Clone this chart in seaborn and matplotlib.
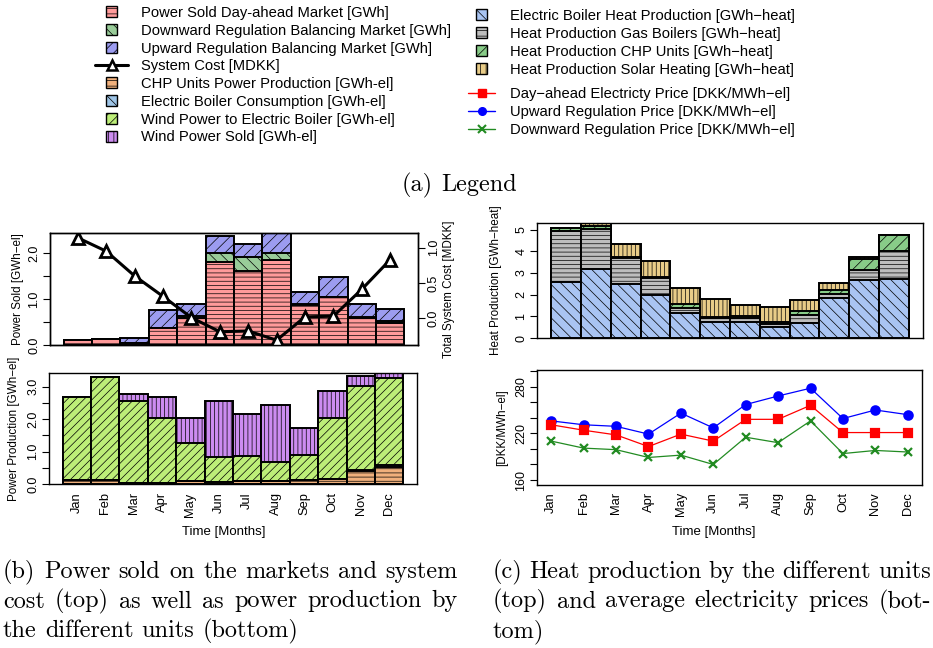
import numpy as np
import seaborn as sns
import matplotlib.pyplot as plt
from matplotlib.patches import Patch, Rectangle
from matplotlib.lines import Line2D
from matplotlib.legend_handler import HandlerPatch

months = ["Jan", "Feb", "Mar", "Apr", "May", "Jun", "Jul", "Aug", "Sep", "Oct", "Nov", "Dec"]

# power sold on the markets [GWh]
sold_dayahead = [0.10, 0.14, 0.04, 0.36, 0.58, 1.80, 1.60, 1.84, 0.87, 1.05, 0.59, 0.48]
sold_down = [0.00, 0.00, 0.00, 0.00, 0.05, 0.20, 0.30, 0.16, 0.02, 0.00, 0.02, 0.03]
sold_up = [0.00, 0.00, 0.12, 0.40, 0.27, 0.37, 0.30, 0.42, 0.25, 0.43, 0.28, 0.27]
system_cost = [1.14, 0.95, 0.60, 0.31, 0.01, -0.19, -0.18, -0.31, 0.02, 0.03, 0.41, 0.83]

# power production [GWh-el]
chp_power = [0.13, 0.13, 0.04, 0.03, 0.08, 0.07, 0.08, 0.08, 0.12, 0.14, 0.41, 0.52]
eb_consumption = [0.00, 0.00, 0.00, 0.00, 0.00, 0.00, 0.00, 0.00, 0.00, 0.00, 0.01, 0.06]
wind_to_eb = [2.56, 3.18, 2.53, 1.99, 1.18, 0.76, 0.78, 0.59, 0.76, 1.88, 2.61, 2.69]
wind_sold = [0.00, 0.00, 0.19, 0.65, 0.76, 1.74, 1.29, 1.76, 0.85, 0.86, 0.29, 0.14]

# heat production [GWh-heat]
heat_eb = [2.56, 3.17, 2.51, 1.96, 1.13, 0.72, 0.72, 0.52, 0.71, 1.85, 2.66, 2.74]
heat_gas = [2.38, 1.85, 1.20, 0.82, 0.27, 0.18, 0.18, 0.11, 0.34, 0.17, 0.48, 1.28]
heat_chp = [0.15, 0.15, 0.02, 0.02, 0.15, 0.08, 0.10, 0.11, 0.18, 0.18, 0.52, 0.72]
heat_solar = [0.00, 0.12, 0.62, 0.76, 0.76, 0.80, 0.52, 0.70, 0.51, 0.34, 0.08, 0.00]

# average prices [DKK/MWh-el]
price_dayahead = [231, 224, 218, 203, 219, 210, 238, 238, 256, 221, 221, 221]
price_up = [236, 231, 229, 219, 246, 227, 257, 268, 278, 239, 250, 244]
price_down = [210, 201, 199, 189, 192, 180, 215, 208, 236, 194, 198, 196]

# colours
c_red, c_down, c_up = "#ff9a9a", "#99cc99", "#9c9cf0"
c_chp, c_ebc, c_wind_eb, c_wind_sold = "#f0b07c", "#9ec4e6", "#bdee78", "#cc8cf0"
c_heat_eb, c_gas, c_heat_chp, c_solar = "#a9c4f2", "#bdbdbd", "#88cc88", "#e8cc88"

sns.set_theme(style="ticks", rc={"axes.edgecolor": "black", "axes.linewidth": 1.0,
                                 "text.color": "black", "xtick.color": "black",
                                 "ytick.color": "black", "axes.labelcolor": "black",
                                 "hatch.linewidth": 0.5})
plt.rcParams["font.family"] = ["Liberation Sans", "DejaVu Sans"]

W, H = 933, 648
fig = plt.figure(figsize=(W / 100, H / 100), dpi=100)


def rect(x0, y0, x1, y1):
    return [x0 / W, 1 - y1 / H, (x1 - x0) / W, (y1 - y0) / H]


def stacked(ax, layers):
    # draw cumulative totals from the top down so each layer covers the next
    tops = np.cumsum([l[0] for l in layers], axis=0)
    for (vals, color, hatch), top in reversed(list(zip(layers, tops))):
        sns.barplot(x=months, y=top, color=color, hatch=hatch, edgecolor="black",
                    linewidth=1.4, width=1, saturation=1, errorbar=None, ax=ax)
    ax.set_xlim(-0.98, 11.98)


def yticks(ax, ticks, labels):
    ax.set_yticks(ticks)
    ax.set_yticklabels(labels, rotation=90, va="center", fontsize=9)
    ax.tick_params(axis="y", direction="out", length=5, width=0.8, pad=2)


ax1 = fig.add_axes(rect(50, 233, 418, 345))
ax2 = fig.add_axes(rect(49, 373, 417, 484))
ax3 = fig.add_axes(rect(537, 223, 923, 338))
ax4 = fig.add_axes(rect(537, 370, 922, 485))

# top left: power sold + system cost
stacked(ax1, [(sold_dayahead, c_red, "----"), (sold_down, c_down, "\\\\\\"),
              (sold_up, c_up, "///")])
ax1.set_ylim(0, 2.43)
ax1.set_xticks([])
ax1.set_xlabel("")
yticks(ax1, [0, 0.5, 1.0, 1.5, 2.0], ["0.0", "", "1.0", "", "2.0"])
ax1.set_ylabel("Power Sold [GWh\u2212el]", fontsize=8.4)
ax1.yaxis.set_label_coords(-0.072, 0.5)

ax1b = ax1.twinx()
sns.lineplot(x=np.arange(12), y=system_cost, ax=ax1b, color="black", lw=2.2,
             marker="^", ms=8, markerfacecolor="white", markeredgecolor="black",
             markeredgewidth=2)
ax1b.set_ylim(-0.378, 1.208)
yticks(ax1b, [0.0, 0.5, 1.0], ["0.0", "0.5", "1.0"])
ax1b.set_ylabel("Total System Cost [MDKK]", fontsize=8.4)
ax1b.yaxis.set_label_coords(1.068, 0.5)

# bottom left: power production
stacked(ax2, [(chp_power, c_chp, "----"), (eb_consumption, c_ebc, "\\\\\\"),
              (wind_to_eb, c_wind_eb, "////"), (wind_sold, c_wind_sold, "||||")])
ax2.set_ylim(0, 3.42)
yticks(ax2, [0, 0.5, 1.0, 1.5, 2.0, 2.5, 3.0], ["0.0", "", "1.0", "", "2.0", "", "3.0"])
ax2.set_ylabel("Power Production [GWh\u2212el]", fontsize=8.4)
ax2.yaxis.set_label_coords(-0.08, 0.5)
ax2.tick_params(axis="x", length=0, pad=6, labelrotation=90, labelsize=9.3)
ax2.set_xlabel("Time [Months]", fontsize=9.5)
ax2.xaxis.set_label_coords(0.475, -0.38)

# top right: heat production
stacked(ax3, [(heat_eb, c_heat_eb, "\\\\\\"), (heat_gas, c_gas, "----"),
              (heat_chp, c_heat_chp, "///"), (heat_solar, c_solar, "||||")])
ax3.set_ylim(0, 5.30)
ax3.set_xticks([])
ax3.set_xlabel("")
yticks(ax3, range(6), [str(i) for i in range(6)])
ax3.set_ylabel("Heat Production [GWh\u2212heat]", fontsize=8.4)
ax3.yaxis.set_label_coords(-0.091, 0.5)

# bottom right: prices
xs = np.arange(1, 13)
for vals, col, mk in [(price_up, "#0000ff", "o"), (price_dayahead, "#ff0000", "s"),
                      (price_down, "#228b22", "x")]:
    sns.lineplot(x=xs, y=vals, ax=ax4, color=col, lw=0.9, marker=mk, ms=6,
                 markerfacecolor=col, markeredgecolor=col, markeredgewidth=1.6)
ax4.set_xlim(0.56, 12.44)
ax4.set_ylim(153.6, 301.4)
ax4.set_xticks(xs)
ax4.set_xticklabels(months)
ax4.tick_params(axis="x", length=0, pad=5, labelrotation=90, labelsize=9.3)
yticks(ax4, range(160, 301, 20), ["160", "", "", "220", "", "", "280", ""])
ax4.set_ylabel("[DKK/MWh\u2212el]", fontsize=8.4)
ax4.yaxis.set_label_coords(-0.076, 0.5)
ax4.set_xlabel("Time [Months]", fontsize=9.5)
ax4.xaxis.set_label_coords(0.46, -0.357)


# legends
def small_square(legend, orig_handle, xdescent, ydescent, width, height, fontsize):
    s = 8
    return Rectangle((-xdescent + width / 2 - s / 2, -ydescent + height / 2 - s / 2), s, s)


hmap = {Patch: HandlerPatch(patch_func=small_square)}
left_handles = [
    Patch(facecolor=c_red, edgecolor="black", hatch="---", lw=1),
    Patch(facecolor=c_down, edgecolor="black", hatch="\\\\\\", lw=1),
    Patch(facecolor=c_up, edgecolor="black", hatch="///", lw=1),
    Line2D([], [], color="black", lw=2.2, marker="^", ms=7, mfc="white", mec="black", mew=1.8),
    Patch(facecolor=c_chp, edgecolor="black", hatch="---", lw=1),
    Patch(facecolor=c_ebc, edgecolor="black", hatch="\\\\\\", lw=1),
    Patch(facecolor=c_wind_eb, edgecolor="black", hatch="///", lw=1),
    Patch(facecolor=c_wind_sold, edgecolor="black", hatch="|||", lw=1),
]
left_labels = ["Power Sold Day-ahead Market [GWh]", "Downward Regulation Balancing Market [GWh]",
               "Upward Regulation Balancing Market [GWh]", "System Cost [MDKK]",
               "CHP Units Power Production [GWh-el]", "Electric Boiler Consumption [GWh-el]",
               "Wind Power to Electric Boiler [GWh-el]", "Wind Power Sold [GWh-el]"]
leg_kw = dict(frameon=False, borderpad=0, borderaxespad=0, fontsize=10.6, handler_map=hmap)
fig.legend(left_handles, left_labels, loc="upper left", bbox_to_anchor=(95 / W, 1 - 6 / H),
           handlelength=2.25, handletextpad=0.9, labelspacing=0.255, **leg_kw)

heat_handles = [
    Patch(facecolor=c_heat_eb, edgecolor="black", hatch="\\\\\\", lw=1),
    Patch(facecolor=c_gas, edgecolor="black", hatch="---", lw=1),
    Patch(facecolor=c_heat_chp, edgecolor="black", hatch="///", lw=1),
    Patch(facecolor=c_solar, edgecolor="black", hatch="|||", lw=1),
]
heat_labels = ["Electric Boiler Heat Production [GWh\u2212heat]",
               "Heat Production Gas Boilers [GWh\u2212heat]",
               "Heat Production CHP Units [GWh\u2212heat]",
               "Heat Production Solar Heating [GWh\u2212heat]"]
fig.legend(heat_handles, heat_labels, loc="upper left", bbox_to_anchor=(468 / W, 1 - 9 / H),
           handlelength=1.85, handletextpad=1.0, labelspacing=0.27, **leg_kw)

price_handles = [
    Line2D([], [], color="#ff0000", lw=1, marker="s", ms=5.5),
    Line2D([], [], color="#0000ff", lw=1, marker="o", ms=5.5),
    Line2D([], [], color="#228b22", lw=1, marker="x", ms=6, mew=1.5),
]
price_labels = ["Day\u2212ahead Electricty Price [DKK/MWh\u2212el]",
                "Upward Regulation Price [DKK/MWh\u2212el]",
                "Downward Regulation Price [DKK/MWh\u2212el]"]
fig.legend(price_handles, price_labels, loc="upper left", bbox_to_anchor=(468 / W, 1 - 87 / H),
           handlelength=1.85, handletextpad=1.0, labelspacing=0.27, **leg_kw)

# captions, set word by word so the lines can be justified
renderer = fig.canvas.get_renderer()
cap_size = 17.5
space_px = 0.333 * cap_size * 100 / 72


def place_words(words, y_px, x0, gap=None, x1=None):
    ts = [fig.text(0, 1 - y_px / H, w, fontsize=cap_size, family="cmr10", va="baseline")
          for w in words]
    ws = [t.get_window_extent(renderer).width for t in ts]
    if gap is None:
        gap = (x1 - x0 - sum(ws)) / (len(words) - 1)
    x = x0
    for t, w in zip(ts, ws):
        t.set_x(x / W)
        x += w + gap


def caption(lines, x0, x1, base, step=29.5):
    for i, line in enumerate(lines):
        last = i == len(lines) - 1
        place_words(line.split(), base + i * step, x0,
                    gap=space_px if last else None, x1=x1)


legend_words = ["(a)", "Legend"]
ts = [fig.text(0, 0, w, fontsize=cap_size, family="cmr10") for w in legend_words]
total = sum(t.get_window_extent(renderer).width for t in ts) + space_px
for t in ts:
    t.remove()
place_words(legend_words, 191, 459 - total / 2, gap=space_px)

caption(["(b) Power sold on the markets and system",
         "cost (top) as well as power production by",
         "the different units (bottom)"], 3, 458, 578)
caption(["(c) Heat production by the different units",
         "(top) and average electricity prices (bot-",
         "tom)"], 493, 931, 578)

fig.savefig("out.png", dpi=100)
